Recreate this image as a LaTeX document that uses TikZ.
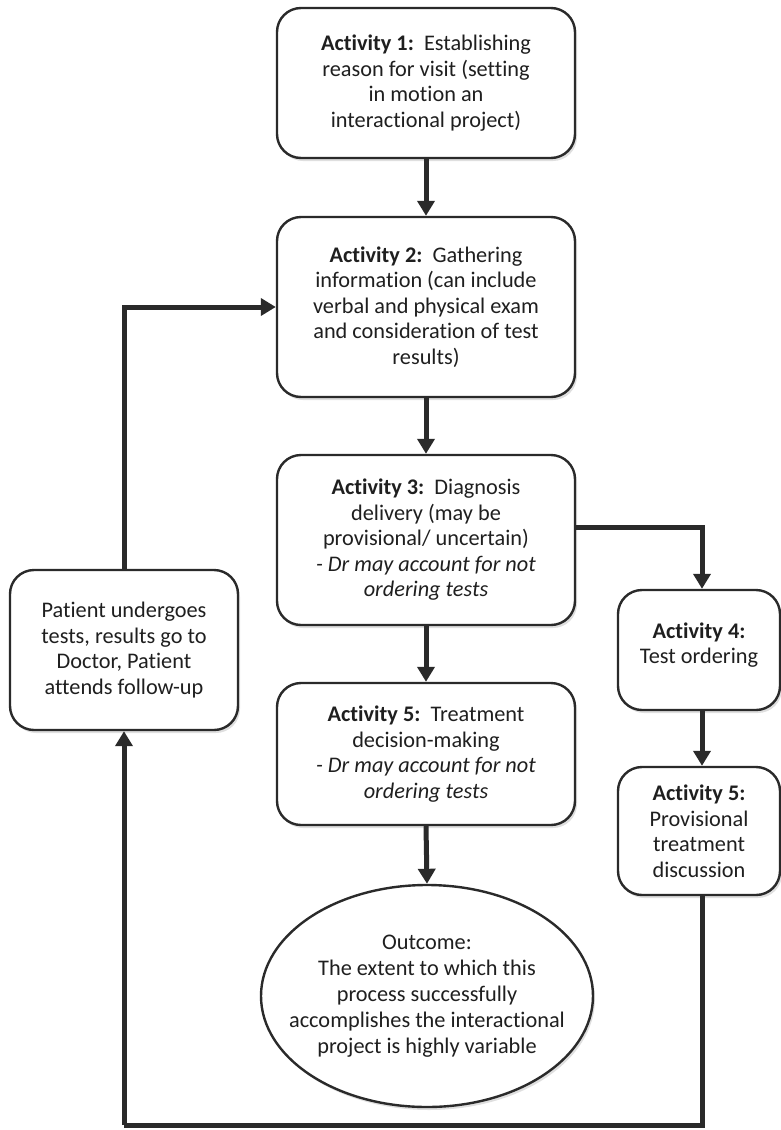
\documentclass[tikz,border=0pt]{standalone}
\usepackage{fontspec}
\setmainfont{Carlito}[Ligatures=NoCommon]
\usetikzlibrary{arrows.meta,shapes.geometric,shadows}
\definecolor{ink}{HTML}{2A2A2A}
\tikzset{
  box/.style={draw=ink, line width=2.4pt, rounded corners=24pt, fill=white, align=center,
    inner sep=0pt, font=\fontsize{22.3}{25.5}\selectfont, text=black!88,
    drop shadow={opacity=0.25, shadow xshift=2pt, shadow yshift=-3pt}},
  oval/.style={ellipse, draw=ink, line width=2.4pt, fill=white, align=center,
    inner xsep=-30pt, inner ysep=0pt,
    font=\fontsize{22.3}{26}\selectfont, text=black!88,
    drop shadow={opacity=0.25, shadow xshift=2pt, shadow yshift=-3pt}},
  flow/.style={draw=ink, line width=5pt, -{Triangle[width=17pt,length=15pt]}},
  flowline/.style={draw=ink, line width=5pt}
}
\begin{document}
\begin{tikzpicture}[x=1pt,y=1pt]
\useasboundingbox (0,0) rectangle (781,-1130);
\node[box, minimum width=298pt, minimum height=150pt] (b1) at (426,-83)
  {\textbf{Activity 1:}\ \ Establishing\\ reason for visit (setting\\ in motion an\\ interactional project)};
\node[box, minimum width=298pt, minimum height=180pt] (b2) at (426,-307)
  {\textbf{Activity 2:}\ \ Gathering\\ information (can include\\ verbal and physical exam\\ and consideration of test\\ results)};
\node[box, minimum width=298pt, minimum height=170pt] (b3) at (426,-540)
  {\textbf{Activity 3:}\ \ Diagnosis\\ delivery (may be\\ provisional/ uncertain)\\ \textit{- Dr may account for not}\\ \textit{ordering tests}};
\node[box, minimum width=298pt, minimum height=142pt] (b5) at (426,-754)
  {\textbf{Activity 5:}\ \ Treatment\\ decision-making\\ \textit{- Dr may account for not}\\ \textit{ordering tests}};
\node[oval, minimum width=332pt, minimum height=222pt] (out) at (427,-996)
  {Outcome:\\ The extent to which this\\ process successfully\\ accomplishes the interactional\\ project is highly variable};
\node[box, minimum width=228pt, minimum height=160pt] (bl) at (124,-650)
  {Patient undergoes\\ tests, results go to\\ Doctor, Patient\\ attends follow-up};
\node[box, minimum width=162pt, minimum height=120pt] (b4) at (699,-650)
  {\textbf{Activity 4:}\\ Test ordering\\[-12pt]\mbox{}};
\node[box, minimum width=162pt, minimum height=128pt] (b6) at (699,-831)
  {\textbf{Activity 5:}\\ Provisional\\ treatment\\ discussion};
\coordinate (c1) at (702,-1125);
\coordinate (c2) at (124,-1125);
\draw[flow] (b1.south) -- (b2.north);
\draw[flow] (b2.south) -- (b3.north);
\draw[flow] (b3.south) -- (b5.north);
\draw[flow] (b5.south) -- (out.north);
\draw[flow] ([yshift=13pt]b3.east) -| ([xshift=3pt]b4.north);
\draw[flow] ([xshift=3pt]b4.south) -- ([xshift=3pt]b6.north);
\draw[flowline] ([xshift=3pt]b6.south) -- (c1) -- (c2);
\draw[flow] (c2) -- (bl.south);
\draw[flow] (bl.north) |- (b2.west);
\end{tikzpicture}
\end{document}
